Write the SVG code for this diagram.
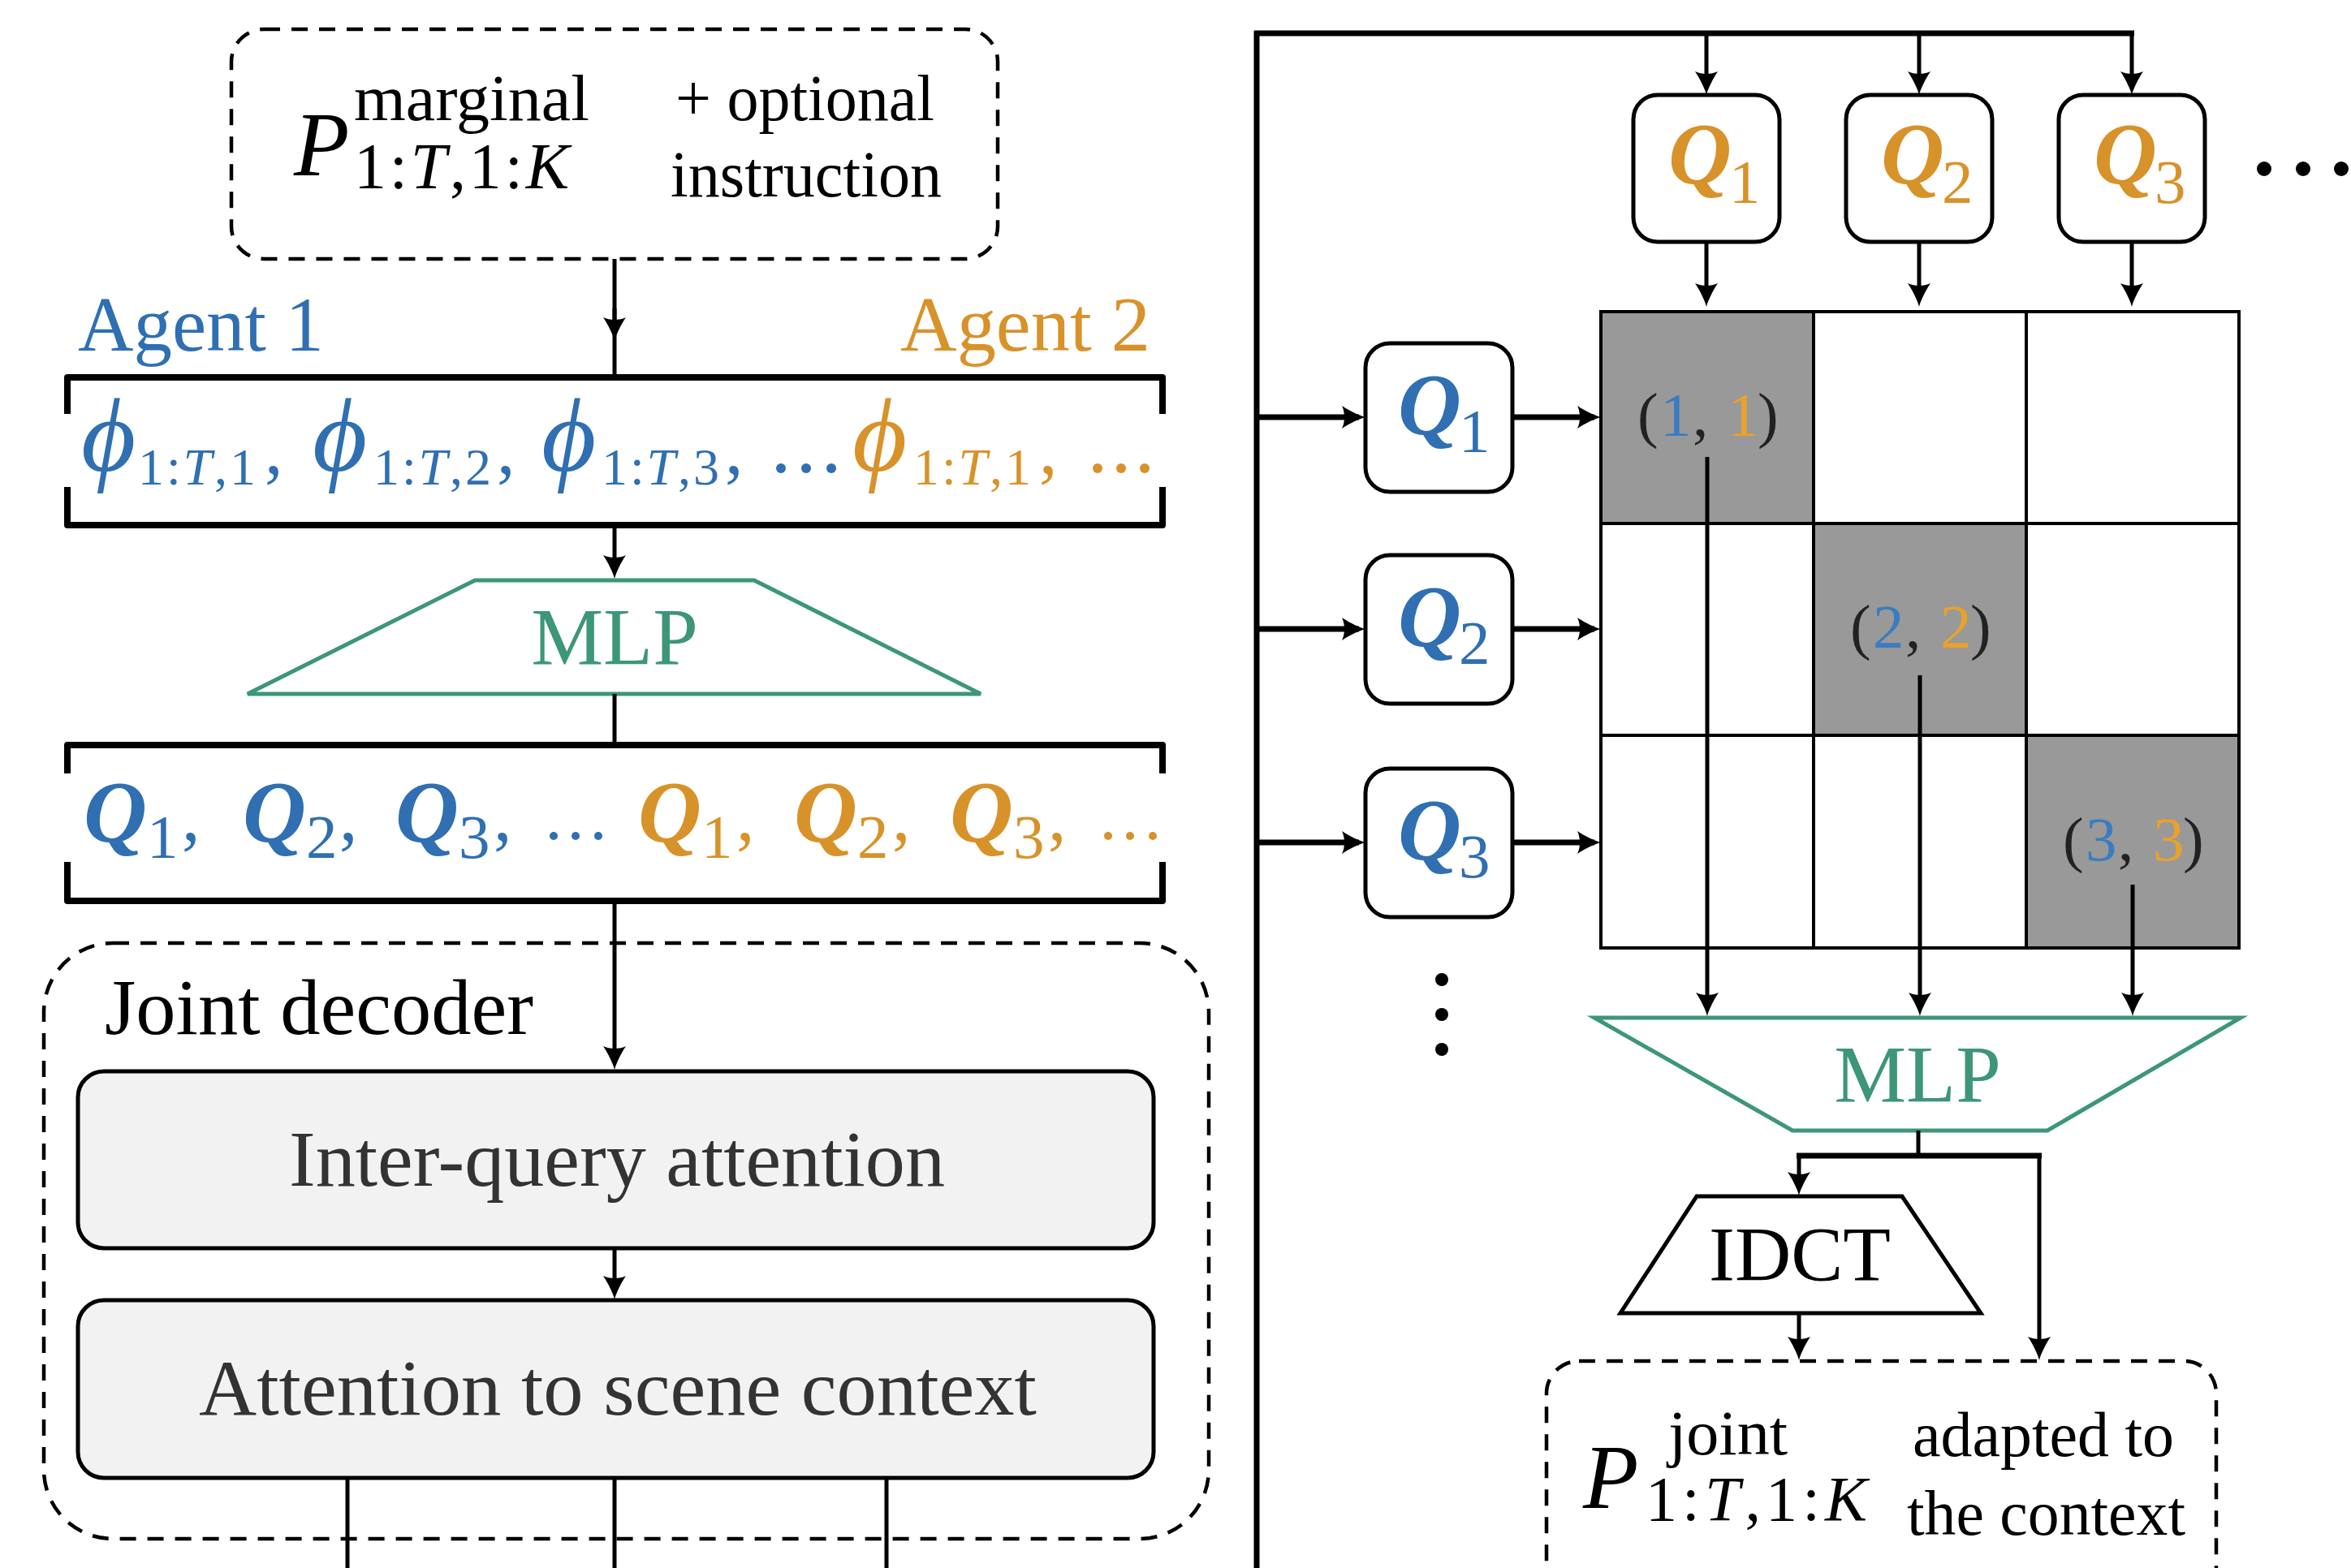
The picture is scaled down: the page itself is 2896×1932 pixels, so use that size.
<svg xmlns="http://www.w3.org/2000/svg" width="2896" height="1932" viewBox="0 0 2896 1932">
<style>
.t{font-family:"Liberation Serif","DejaVu Serif",serif}
.blue{fill:#2f6fb2}
.orange{fill:#d8922a}
.green{fill:#3d9677}
.dash{fill:none;stroke:#000;stroke-width:4.5;stroke-dasharray:20 14}
.ln{fill:none;stroke:#000;stroke-width:5}
.thick{fill:none;stroke:#000;stroke-width:7}
.br{fill:none;stroke:#000;stroke-width:8;stroke-linejoin:round}
.qbox{fill:#fff;stroke:#000;stroke-width:5}
.q{font-family:"Liberation Serif",serif;font-weight:bold;font-style:italic;font-size:108px}
.qs{font-family:"Liberation Serif",serif;font-size:77px}
.phi{font-family:"Liberation Serif","DejaVu Serif",serif;font-style:italic;font-size:130px}
.ps{font-family:"Liberation Serif",serif;font-size:64px}
.it{font-style:italic}
.cell{fill:#999999}
.grid{fill:none;stroke:#000;stroke-width:4}
.mlp{fill:#fff;stroke:#3d9677;stroke-width:5}
.blk{fill:#000}
</style>
<defs>
<marker id="ah" markerUnits="userSpaceOnUse" markerWidth="34" markerHeight="30" viewBox="0 0 34 30" refX="24" refY="15" orient="auto">
<path d="M32,15 C24,13 12,7 3,1 C7,9 7,21 3,29 C12,23 24,17 32,15 Z" fill="#000"/>
</marker>
</defs>
<rect width="2896" height="1932" fill="#fff"/>

<g id="marginal-box">
<rect class="dash" x="285" y="36" width="944" height="283" rx="40"/>
<text class="t it" x="362" y="216" font-size="112">P</text>
<text class="t" x="436" y="148" font-size="80" textLength="290" lengthAdjust="spacingAndGlyphs">marginal</text>
<text class="t" x="436" y="232" font-size="80" textLength="265" lengthAdjust="spacing">1:<tspan class="it">T</tspan>,1:<tspan class="it">K</tspan></text>
<text class="t" x="832" y="148" font-size="80" textLength="319" lengthAdjust="spacingAndGlyphs">+ optional</text>
<text class="t" x="826" y="242" font-size="80" textLength="334" lengthAdjust="spacingAndGlyphs">instruction</text>
</g>

<g id="agent-labels">
<text class="t blue" x="96" y="432" font-size="96" textLength="303" lengthAdjust="spacingAndGlyphs">Agent 1</text>
<text class="t orange" x="1109" y="432" font-size="96" textLength="308" lengthAdjust="spacingAndGlyphs">Agent 2</text>
</g>

<g id="phi-row">
<path class="br" d="M83,510 L83,465 L1432,465 L1432,510 M83,600 L83,647 L1432,647 L1432,600"/>
<g class="blue">
<text class="phi" x="100" y="580">ϕ</text>
<text class="ps" x="170" y="597" textLength="145" lengthAdjust="spacing">1:<tspan class="it">T</tspan>,1</text>
<text class="t" x="326" y="583" font-size="90">,</text>
<text class="phi" x="385" y="580">ϕ</text>
<text class="ps" x="460" y="597" textLength="145" lengthAdjust="spacing">1:<tspan class="it">T</tspan>,2</text>
<text class="t" x="612" y="583" font-size="90">,</text>
<text class="phi" x="667" y="580">ϕ</text>
<text class="ps" x="741" y="597" textLength="145" lengthAdjust="spacing">1:<tspan class="it">T</tspan>,3</text>
<text class="t" x="893" y="583" font-size="90">,</text>
<circle cx="962" cy="577" r="6"/><circle cx="993" cy="577" r="6"/><circle cx="1024" cy="577" r="6"/>
</g>
<g class="orange">
<text class="phi" x="1050" y="580">ϕ</text>
<text class="ps" x="1125" y="597" textLength="145" lengthAdjust="spacing">1:<tspan class="it">T</tspan>,1</text>
<text class="t" x="1280" y="583" font-size="90">,</text>
<circle cx="1352" cy="577" r="6"/><circle cx="1381" cy="577" r="6"/><circle cx="1410" cy="577" r="6"/>
</g>
</g>

<g id="mlp-left">
<polygon class="mlp" points="585,715 929,715 1208,855 305,855"/>
<text class="t green" x="757" y="818" font-size="100" text-anchor="middle">MLP</text>
</g>

<g id="query-row">
<path class="br" d="M83,953 L83,918 L1432,918 L1432,953 M83,1062 L83,1110 L1432,1110 L1432,1062"/>
<g class="blue">
<text class="q" x="103" y="1037">Q</text><text class="qs" x="181" y="1057">1</text><text class="t" x="224" y="1035" font-size="90">,</text>
<text class="q" x="299" y="1037">Q</text><text class="qs" x="377" y="1057">2</text><text class="t" x="418" y="1035" font-size="90">,</text>
<text class="q" x="487" y="1037">Q</text><text class="qs" x="565" y="1057">3</text><text class="t" x="608" y="1035" font-size="90">,</text>
<circle cx="682" cy="1030" r="5"/><circle cx="709" cy="1030" r="5"/><circle cx="737" cy="1030" r="5"/>
</g>
<g class="orange">
<text class="q" x="786" y="1037">Q</text><text class="qs" x="864" y="1057">1</text><text class="t" x="907" y="1035" font-size="90">,</text>
<text class="q" x="978" y="1037">Q</text><text class="qs" x="1056" y="1057">2</text><text class="t" x="1099" y="1035" font-size="90">,</text>
<text class="q" x="1170" y="1037">Q</text><text class="qs" x="1248" y="1057">3</text><text class="t" x="1291" y="1035" font-size="90">,</text>
<circle cx="1365" cy="1030" r="5"/><circle cx="1392" cy="1030" r="5"/><circle cx="1420" cy="1030" r="5"/>
</g>
</g>

<g id="joint-decoder">
<rect class="dash" x="54" y="1162" width="1435" height="734" rx="85"/>
<text class="t" x="129" y="1274" font-size="98" textLength="528" lengthAdjust="spacingAndGlyphs">Joint decoder</text>
</g>
<g id="inter-query-attention">
<rect x="96" y="1320" width="1325" height="218" rx="32" fill="#f2f2f2" stroke="#000" stroke-width="5"/>
<text class="t" x="760" y="1461" font-size="98" fill="#333" text-anchor="middle" textLength="808" lengthAdjust="spacingAndGlyphs">Inter-query attention</text>
</g>
<g id="scene-attention">
<rect x="96" y="1602" width="1325" height="219" rx="32" fill="#f2f2f2" stroke="#000" stroke-width="5"/>
<text class="t" x="761" y="1743" font-size="98" fill="#333" text-anchor="middle" textLength="1032" lengthAdjust="spacingAndGlyphs">Attention to scene context</text>
</g>

<g id="top-queries">
<rect class="qbox" x="2012" y="117" width="180" height="181" rx="30"/>
<rect class="qbox" x="2274" y="117" width="180" height="181" rx="30"/>
<rect class="qbox" x="2536" y="117" width="180" height="181" rx="30"/>
<g class="orange">
<text class="q" x="2055" y="226">Q</text><text class="qs" x="2130" y="250">1</text>
<text class="q" x="2317" y="226">Q</text><text class="qs" x="2392" y="250">2</text>
<text class="q" x="2579" y="226">Q</text><text class="qs" x="2654" y="250">3</text>
</g>
<g class="blk"><circle cx="2789" cy="208" r="9"/><circle cx="2837" cy="208" r="9"/><circle cx="2884" cy="208" r="9"/></g>
</g>

<g id="left-queries">
<rect class="qbox" x="1682" y="423" width="181" height="183" rx="30"/>
<rect class="qbox" x="1682" y="684" width="181" height="183" rx="30"/>
<rect class="qbox" x="1682" y="947" width="181" height="183" rx="30"/>
<g class="blue">
<text class="q" x="1722" y="535">Q</text><text class="qs" x="1797" y="557">1</text>
<text class="q" x="1722" y="796">Q</text><text class="qs" x="1797" y="818">2</text>
<text class="q" x="1722" y="1059">Q</text><text class="qs" x="1797" y="1081">3</text>
</g>
<g class="blk"><circle cx="1776" cy="1207" r="8"/><circle cx="1776" cy="1250" r="8"/><circle cx="1776" cy="1293" r="8"/></g>
</g>

<g id="pair-grid">
<rect class="cell" x="1972" y="384" width="262" height="261"/>
<rect class="cell" x="2234" y="645" width="262" height="261"/>
<rect class="cell" x="2496" y="906" width="262" height="262"/>
<path class="grid" d="M1972,384 H2758 V1168 H1972 Z M2234,384 V1168 M2496,384 V1168 M1972,645 H2758 M1972,906 H2758"/>
<text class="t" x="2017" y="537" font-size="77" fill="#222">(<tspan x="2045" fill="#3a7cc0">1</tspan><tspan x="2085">,</tspan><tspan x="2128" fill="#e9a22a">1</tspan><tspan x="2165">)</tspan></text>
<text class="t" x="2279" y="798" font-size="77" fill="#222">(<tspan x="2307" fill="#3a7cc0">2</tspan><tspan x="2347">,</tspan><tspan x="2390" fill="#e9a22a">2</tspan><tspan x="2427">)</tspan></text>
<text class="t" x="2541" y="1060" font-size="77" fill="#222">(<tspan x="2569" fill="#3a7cc0">3</tspan><tspan x="2609">,</tspan><tspan x="2652" fill="#e9a22a">3</tspan><tspan x="2689">)</tspan></text>
</g>

<g id="mlp-right">
<polygon class="mlp" points="1964,1254 2760,1254 2522,1393 2208,1393"/>
<text class="t green" x="2362" y="1357" font-size="100" text-anchor="middle">MLP</text>
</g>

<g id="idct">
<polygon points="2090,1474 2343,1474 2440,1618 1996,1618" fill="#fff" stroke="#000" stroke-width="5"/>
<text class="t" x="2217" y="1578" font-size="96" text-anchor="middle" textLength="224" lengthAdjust="spacingAndGlyphs">IDCT</text>
</g>

<g id="joint-output">
<rect class="dash" x="1905" y="1677" width="825" height="330" rx="40"/>
<text class="t it" x="1950" y="1858" font-size="112">P</text>
<text class="t" x="2055" y="1792" font-size="78" textLength="147" lengthAdjust="spacingAndGlyphs">joint</text>
<text class="t" x="2027" y="1873" font-size="78" textLength="273" lengthAdjust="spacing">1:<tspan class="it">T</tspan>,1:<tspan class="it">K</tspan></text>
<text class="t" x="2356" y="1794" font-size="78" textLength="322" lengthAdjust="spacingAndGlyphs">adapted to</text>
<text class="t" x="2349" y="1891" font-size="78" textLength="343" lengthAdjust="spacingAndGlyphs">the context</text>
</g>

<g id="connectors">
<line class="ln" x1="757" y1="319" x2="757" y2="465"/>
<line class="ln" x1="757" y1="380" x2="757" y2="412" marker-end="url(#ah)"/>
<line class="ln" x1="757" y1="647" x2="757" y2="705" marker-end="url(#ah)"/>
<line class="ln" x1="757" y1="855" x2="757" y2="918"/>
<line class="ln" x1="757" y1="1110" x2="757" y2="1310" marker-end="url(#ah)"/>
<line class="ln" x1="757" y1="1538" x2="757" y2="1593" marker-end="url(#ah)"/>
<line class="ln" x1="428" y1="1821" x2="428" y2="1932"/>
<line class="ln" x1="757" y1="1821" x2="757" y2="1932"/>
<line class="ln" x1="1092" y1="1821" x2="1092" y2="1932"/>
<line class="thick" x1="1548" y1="38" x2="1548" y2="1932"/>
<line class="thick" x1="1545" y1="41" x2="2629" y2="41"/>
<line class="ln" x1="2102" y1="41" x2="2102" y2="109" marker-end="url(#ah)"/>
<line class="ln" x1="2364" y1="41" x2="2364" y2="109" marker-end="url(#ah)"/>
<line class="ln" x1="2626" y1="41" x2="2626" y2="109" marker-end="url(#ah)"/>
<line class="ln" x1="2102" y1="298" x2="2102" y2="370" marker-end="url(#ah)"/>
<line class="ln" x1="2364" y1="298" x2="2364" y2="370" marker-end="url(#ah)"/>
<line class="ln" x1="2626" y1="298" x2="2626" y2="370" marker-end="url(#ah)"/>
<line class="thick" x1="1548" y1="514" x2="1674" y2="514" marker-end="url(#ah)"/>
<line class="thick" x1="1548" y1="775" x2="1674" y2="775" marker-end="url(#ah)"/>
<line class="thick" x1="1548" y1="1038" x2="1674" y2="1038" marker-end="url(#ah)"/>
<line class="thick" x1="1863" y1="514" x2="1964" y2="514" marker-end="url(#ah)"/>
<line class="thick" x1="1863" y1="775" x2="1964" y2="775" marker-end="url(#ah)"/>
<line class="thick" x1="1863" y1="1038" x2="1964" y2="1038" marker-end="url(#ah)"/>
<line class="ln" x1="2103" y1="563" x2="2103" y2="1244" marker-end="url(#ah)"/>
<line class="ln" x1="2365" y1="832" x2="2365" y2="1244" marker-end="url(#ah)"/>
<line class="ln" x1="2627" y1="1090" x2="2627" y2="1244" marker-end="url(#ah)"/>
<line class="ln" x1="2363" y1="1393" x2="2363" y2="1424"/>
<line class="thick" x1="2213" y1="1424" x2="2515" y2="1424"/>
<line class="ln" x1="2216" y1="1424" x2="2216" y2="1465" marker-end="url(#ah)"/>
<line class="ln" x1="2512" y1="1424" x2="2512" y2="1668" marker-end="url(#ah)"/>
<line class="ln" x1="2216" y1="1618" x2="2216" y2="1668" marker-end="url(#ah)"/>
</g>
</svg>
